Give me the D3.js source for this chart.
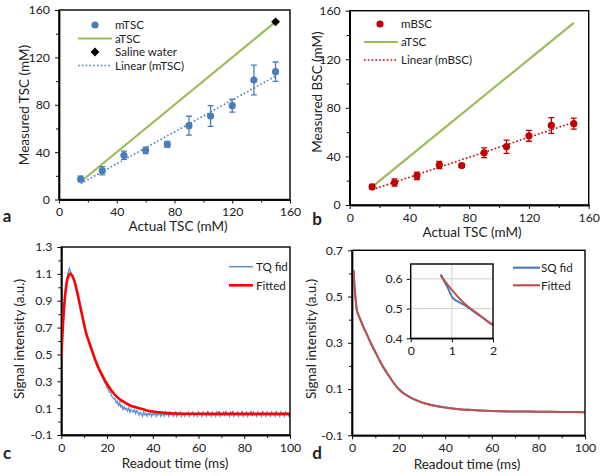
<!DOCTYPE html>
<html><head><meta charset="utf-8">
<script src="https://cdn.jsdelivr.net/npm/d3@7"></script>
<style>body{margin:0;background:#fff} svg{display:block} text{font-family:Lato,"Open Sans",sans-serif;fill:#222}</style>
</head><body><svg id="c" width="602" height="476"></svg>
<script>
// ---------- data ----------
const concentrations = [15,30,45,60,75,90,105,120,135,150];
const mTSC    = [17.3,24.3,37.3,41.5,46.6,62.3,70.5,79.2,100.9,107.9];
const mTSCerr = [2.5,3.5,3.5,2.8,2.5,8,8.7,5.5,12.5,8.2];
const mBSC    = [15,18.5,24,33,32.5,43,48,57,65.5,67];
const mBSCerr = [2,3,3,3,1.5,4,5.5,4.5,6.5,4.5];
const aTSCx = [15,150];
const aTSCy = [15,150];
const salineX = [150];
const salineY = [150];

const concTicks = [0,40,80,120,160];
const concMinor = [20,60,100,140];
const timeTicks = [0,20,40,60,80,100];
const timeMinor = [10,30,50,70,90];
const tqYTicks = [-0.1,0.1,0.3,0.5,0.7,0.9,1.1,1.3];
const tqYMinor = [0,0.2,0.4,0.6,0.8,1.0,1.2];
const sqYTicks = [-0.1,0.1,0.3,0.5,0.7];
const sqYMinor = [0,0.2,0.4,0.6];
const insetXTicks = [0,1,2];
const insetYTicks = [0.4,0.5,0.6];

// TQ fid, sampled every 0.5 ms from 0 to 100 ms
const tqFid = [
0.45,0.60,0.78,0.90,0.99,1.06,1.11,1.14,1.12,1.10,1.09,1.05,1.04,0.98,0.97,0.91,0.89,0.83,0.81,0.76,0.73,
0.68,0.66,0.62,0.60,0.56,0.55,0.51,0.50,0.46,0.45,0.42,0.41,0.38,0.37,0.34,0.33,0.31,0.29,0.28,0.25,
0.24,0.22,0.22,0.19,0.18,0.17,0.17,0.14,0.15,0.12,0.14,0.11,0.12,0.09,0.11,0.09,0.10,0.08,0.10,0.07,
0.09,0.08,0.07,0.09,0.06,0.08,0.07,0.05,0.07,0.06,0.04,0.07,0.05,0.06,0.04,0.06,0.05,0.07,0.04,0.06,
0.05,0.07,0.04,0.06,0.05,0.07,0.04,0.06,0.05,0.04,0.07,0.05,0.06,0.04,0.07,0.05,0.06,0.04,0.05,0.07,
0.04,0.06,0.05,0.07,0.04,0.06,0.05,0.04,0.06,0.05,0.07,0.04,0.06,0.05,0.07,0.04,0.05,0.06,0.04,0.07,
0.05,0.06,0.04,0.07,0.05,0.06,0.04,0.08,0.05,0.06,0.04,0.07,0.05,0.06,0.04,0.07,0.05,0.08,0.04,0.06,
0.05,0.07,0.04,0.08,0.05,0.06,0.04,0.07,0.05,0.08,0.04,0.06,0.05,0.07,0.04,0.06,0.05,0.08,0.04,0.06,
0.05,0.07,0.04,0.06,0.05,0.08,0.04,0.07,0.05,0.06,0.04,0.07,0.05,0.06,0.04,0.08,0.05,0.06,0.04,0.07,
0.05,0.06,0.04,0.07,0.05,0.06,0.04,0.08,0.05,0.06,0.04,0.07,0.05,0.06,0.04,0.07,0.05,0.06,0.04,0.06];
const tqStep = 0.5;

const tqFitT = [0,0.5,1,1.5,2,2.5,3,3.5,4,4.5,5,6,7,8,9,10,11,12,13,14,16,18,20,22,24,26,28,30,32,34,37,40,45,50,60,70,80,90,100];
const tqFitV = [0.48,0.66,0.80,0.91,0.99,1.05,1.08,1.10,1.10,1.09,1.08,1.03,0.96,0.88,0.80,0.72,0.65,0.60,0.55,0.50,0.41,0.34,0.28,0.23,0.19,0.16,0.14,0.12,0.11,0.10,0.085,0.075,0.065,0.06,0.058,0.057,0.057,0.057,0.057];

const sqTime   = [0.73,0.8,0.9,1.0,1.1,1.2,1.3,1.4,1.5,1.75,2,3,4,5,6,8,10,12,14,16,18,20,22,25,28,30,35,40,45,50,60,70,80,90,100];
const sqFid    = [0.615,0.595,0.57,0.54,0.527,0.52,0.512,0.503,0.493,0.469,0.445,0.415,0.39,0.365,0.345,0.30,0.26,0.22,0.185,0.155,0.125,0.10,0.083,0.064,0.05,0.042,0.029,0.02,0.014,0.01,0.005,0.003,0.002,0.001,0.0];
const sqFitted = [0.612,0.598,0.58,0.563,0.547,0.532,0.518,0.506,0.496,0.47,0.445,0.415,0.39,0.365,0.345,0.30,0.26,0.22,0.185,0.155,0.125,0.10,0.083,0.064,0.05,0.042,0.029,0.02,0.014,0.01,0.005,0.003,0.002,0.001,0.0];

// ---------- colours ----------
const BLUE = "#4a7ebb", GREEN = "#9bbb59", RED = "#c00000";
const FONT = 12.3, TITLE = 13.5, LEG = 11.6;

const svg = d3.select("#c");
const defs = svg.append("defs");
const frames = [];

function panel(o){
  const x = d3.scaleLinear().domain(o.xd).range([o.x0,o.x1]);
  const y = d3.scaleLinear().domain(o.yd).range([o.y1,o.y0]);
  const g = svg.append("g");
  const fmt = o.fmt || (d=>String(d));
  g.append("g").attr("transform",`translate(0,${o.y1})`)
    .call(d3.axisBottom(x).tickValues(o.xt).tickSize(4).tickSizeOuter(0).tickPadding(o.tp||4).tickFormat(d=>String(d)));
  if(o.xm) g.append("g").attr("transform",`translate(0,${o.y1})`)
    .call(d3.axisBottom(x).tickValues(o.xm).tickSize(3).tickSizeOuter(0).tickFormat(""));
  g.append("g").attr("transform",`translate(${o.x0},0)`)
    .call(d3.axisLeft(y).tickValues(o.yt).tickSize(4).tickSizeOuter(0).tickPadding(o.tp||5).tickFormat(fmt));
  if(o.ym) g.append("g").attr("transform",`translate(${o.x0},0)`)
    .call(d3.axisLeft(y).tickValues(o.ym).tickSize(3).tickSizeOuter(0).tickFormat(""));
  g.selectAll(".domain").attr("stroke","#000").attr("stroke-width",1.4);
  g.selectAll(".tick line").attr("stroke","#111").attr("stroke-width",1);
  g.selectAll(".tick text").attr("font-size",FONT).attr("fill","#222").attr("font-family","Lato, 'Open Sans', sans-serif");
  const id = "clip"+frames.length;
  defs.append("clipPath").attr("id",id).append("rect")
    .attr("x",o.x0).attr("y",o.y0).attr("width",o.x1-o.x0).attr("height",o.y1-o.y0);
  const plot = svg.append("g").attr("clip-path",`url(#${id})`);
  frames.push([o.x0,o.y0,o.x1,o.y1]);
  return {x,y,g,plot,id};
}

function label(txt,x,y,opts={}){
  const t = svg.append("text").attr("x",x).attr("y",y).text(txt)
    .attr("font-size",opts.size||TITLE).attr("text-anchor",opts.anchor||"middle");
  if(opts.bold) t.attr("font-weight","bold").attr("font-family","Arial, 'Liberation Sans', sans-serif");
  if(opts.rotate) t.attr("transform",`rotate(-90,${x},${y})`);
  return t;
}

function regress(xs,ys){
  const mx=d3.mean(xs), my=d3.mean(ys);
  const sxy=d3.sum(xs,(v,i)=>(v-mx)*(ys[i]-my)), sxx=d3.sum(xs,v=>(v-mx)*(v-mx));
  const b=sxy/sxx; return {b, a:my-b*mx};
}

function scatterPanel(o, vals, errs, col){
  const p = panel(o);
  const {x,y,plot} = p;
  const line = d3.line().x(d=>x(d[0])).y(d=>y(d[1]));
  plot.append("path").datum(aTSCx.map((v,i)=>[v,aTSCy[i]])).attr("d",line)
    .attr("fill","none").attr("stroke",GREEN).attr("stroke-width",2.2);
  const r = regress(concentrations, vals);
  const x0 = d3.min(concentrations), x1 = d3.max(concentrations);
  plot.append("path").datum([[x0,r.a+r.b*x0],[x1,r.a+r.b*x1]]).attr("d",line)
    .attr("fill","none").attr("stroke",col).attr("stroke-width",1.6).attr("stroke-dasharray","1.6,2.2");
  const eb = plot.append("g").attr("stroke",col).attr("stroke-width",1.3);
  concentrations.forEach((c,i)=>{
    const cx=x(c), yt=y(vals[i]+errs[i]), yb=y(vals[i]-errs[i]);
    eb.append("line").attr("x1",cx).attr("x2",cx).attr("y1",yt).attr("y2",yb);
    eb.append("line").attr("x1",cx-3).attr("x2",cx+3).attr("y1",yt).attr("y2",yt);
    eb.append("line").attr("x1",cx-3).attr("x2",cx+3).attr("y1",yb).attr("y2",yb);
  });
  plot.selectAll("circle.m").data(concentrations).join("circle")
    .attr("cx",d=>x(d)).attr("cy",(d,i)=>y(vals[i])).attr("r",3.6).attr("fill",col);
  return p;
}

// ---------- panel a ----------
const pa = scatterPanel({x0:59,x1:290,y0:10,y1:199.5,xd:[0,160],yd:[0,160],xt:concTicks,xm:concMinor,yt:concTicks,ym:concMinor},
  mTSC,mTSCerr,BLUE);
label("Actual TSC (mM)",178,231);
label("Measured TSC (mM)",29,105,{rotate:true});
label("a",7,222,{bold:true,size:17});
(function(){
  const g = svg.append("g");
  g.append("circle").attr("cx",95).attr("cy",25).attr("r",3.6).attr("fill",BLUE);
  g.append("line").attr("x1",78).attr("x2",112).attr("y1",38.5).attr("y2",38.5).attr("stroke",GREEN).attr("stroke-width",2.2);
  g.append("path").attr("d",d3.symbol(d3.symbolDiamond2,50)).attr("transform","translate(95,52)").attr("fill","#000");
  g.append("line").attr("x1",78).attr("x2",112).attr("y1",65.5).attr("y2",65.5).attr("stroke",BLUE).attr("stroke-width",1.6).attr("stroke-dasharray","1.6,2.2");
  ["mTSC","aTSC","Saline water","Linear (mTSC)"].forEach((t,i)=>{
    g.append("text").attr("x",115).attr("y",[24.5,38.5,52,65.5][i]+4).attr("font-size",LEG).text(t);
  });
})();

// ---------- panel b ----------
scatterPanel({x0:349.7,x1:588.7,y0:10.7,y1:205,xd:[0,160],yd:[0,160],xt:concTicks,xm:concMinor,yt:concTicks,ym:concMinor},
  mBSC,mBSCerr,RED);
label("Actual TSC (mM)",472,237);
label("Measured BSC (mM)",322,92,{rotate:true});
label("b",317,225,{bold:true,size:17});
(function(){
  const g = svg.append("g");
  g.append("circle").attr("cx",380).attr("cy",24).attr("r",3.6).attr("fill",RED);
  g.append("line").attr("x1",364).attr("x2",398).attr("y1",42).attr("y2",42).attr("stroke",GREEN).attr("stroke-width",2.2);
  g.append("line").attr("x1",364).attr("x2",398).attr("y1",60).attr("y2",60).attr("stroke",RED).attr("stroke-width",1.6).attr("stroke-dasharray","1.6,2.2");
  ["mBSC","aTSC","Linear (mBSC)"].forEach((t,i)=>{
    g.append("text").attr("x",401).attr("y",[24,42,60][i]+4).attr("font-size",LEG).text(t);
  });
})();

// ---------- panel c ----------
(function(){
  const p = panel({x0:61.3,x1:290,y0:247,y1:435,xd:[0,100],yd:[-0.1,1.3],xt:timeTicks,xm:timeMinor,yt:tqYTicks,ym:tqYMinor,fmt:d=>d.toFixed(1)});
  const {x,y,plot} = p;
  plot.append("path").datum(tqFid).attr("d",d3.line().x((d,i)=>x(i*tqStep)).y(d=>y(d)))
    .attr("fill","none").attr("stroke","#5b8fd0").attr("stroke-width",1.3);
  plot.append("path").datum(tqFitT.map((t,i)=>[t,tqFitV[i]])).attr("d",d3.line().curve(d3.curveMonotoneX).x(d=>x(d[0])).y(d=>y(d[1])))
    .attr("fill","none").attr("stroke","#ff0000").attr("stroke-width",2.6);
  const g = svg.append("g");
  g.append("line").attr("x1",229).attr("x2",253).attr("y1",266.7).attr("y2",266.7).attr("stroke","#5b8fd0").attr("stroke-width",1.5);
  g.append("line").attr("x1",229).attr("x2",253).attr("y1",285.3).attr("y2",285.3).attr("stroke","#ff0000").attr("stroke-width",2.6);
  g.append("text").attr("x",256).attr("y",271).attr("font-size",LEG).text("TQ fid");
  g.append("text").attr("x",256).attr("y",289.6).attr("font-size",LEG).text("Fitted");
})();
label("Readout time (ms)",175,468);
label("Signal intensity (a.u.)",24,339,{rotate:true});
label("c",7,459,{bold:true,size:17});

// ---------- panel d ----------
(function(){
  const p = panel({x0:352,x1:585,y0:250.3,y1:435.3,xd:[0,100],yd:[-0.1,0.7],xt:timeTicks,xm:timeMinor,yt:sqYTicks,ym:sqYMinor,fmt:d=>d.toFixed(1)});
  const {x,y,plot} = p;
  const ln = d3.line().curve(d3.curveMonotoneX).x(d=>x(d[0])).y(d=>y(d[1]));
  plot.append("path").datum(sqTime.map((t,i)=>[t,sqFid[i]])).attr("d",ln).attr("fill","none").attr("stroke",BLUE).attr("stroke-width",2);
  plot.append("path").datum(sqTime.map((t,i)=>[t,sqFitted[i]])).attr("d",ln).attr("fill","none").attr("stroke","#c0504d").attr("stroke-width",2);
  const g = svg.append("g");
  g.append("line").attr("x1",513).attr("x2",540).attr("y1",267.7).attr("y2",267.7).attr("stroke",BLUE).attr("stroke-width",2.2);
  g.append("line").attr("x1",513).attr("x2",540).attr("y1",285.3).attr("y2",285.3).attr("stroke","#c0504d").attr("stroke-width",2.2);
  g.append("text").attr("x",541).attr("y",272).attr("font-size",LEG).text("SQ fid");
  g.append("text").attr("x",541).attr("y",289.6).attr("font-size",LEG).text("Fitted");

  // inset
  const ip = panel({x0:410.7,x1:493,y0:264,y1:338.3,xd:[0,2],yd:[0.4,0.65],xt:insetXTicks,yt:insetYTicks,fmt:d=>d.toFixed(1),tp:4});
  const gx = ip.x, gy = ip.y, ig = ip.plot;
  ig.append("rect").attr("x",410.7).attr("y",264).attr("width",82.3).attr("height",74.3).attr("fill","#fff");
  ig.append("line").attr("x1",gx(1)).attr("x2",gx(1)).attr("y1",264).attr("y2",338.3).attr("stroke","#d0d0d0");
  [0.5,0.6].forEach(v=>ig.append("line").attr("x1",410.7).attr("x2",493).attr("y1",gy(v)).attr("y2",gy(v)).attr("stroke","#d0d0d0"));
  const iln = d3.line().curve(d3.curveMonotoneX).x(d=>gx(d[0])).y(d=>gy(d[1]));
  ig.append("path").datum(sqTime.map((t,i)=>[t,sqFid[i]])).attr("d",iln).attr("fill","none").attr("stroke",BLUE).attr("stroke-width",2);
  ig.append("path").datum(sqTime.map((t,i)=>[t,sqFitted[i]])).attr("d",iln).attr("fill","none").attr("stroke","#c0504d").attr("stroke-width",2);
})();
label("Readout time (ms)",467,469);
label("Signal intensity (a.u.)",316,339,{rotate:true});
label("d",317,459,{bold:true,size:17});

// frames on top of everything
const fg = svg.append("g");
frames.forEach(f=>{
  fg.append("rect").attr("x",f[0]).attr("y",f[1]).attr("width",f[2]-f[0]).attr("height",f[3]-f[1])
    .attr("fill","none").attr("stroke","#000").attr("stroke-width",1.4);
});
// saline water marker
fg.selectAll("path.saline").data(salineX).join("path").attr("class","saline")
  .attr("d",d3.symbol(d3.symbolDiamond2, 50))
  .attr("transform",(d,i)=>`translate(${pa.x(d)},${pa.y(salineY[i])})`).attr("fill","#000");
</script></body></html>
